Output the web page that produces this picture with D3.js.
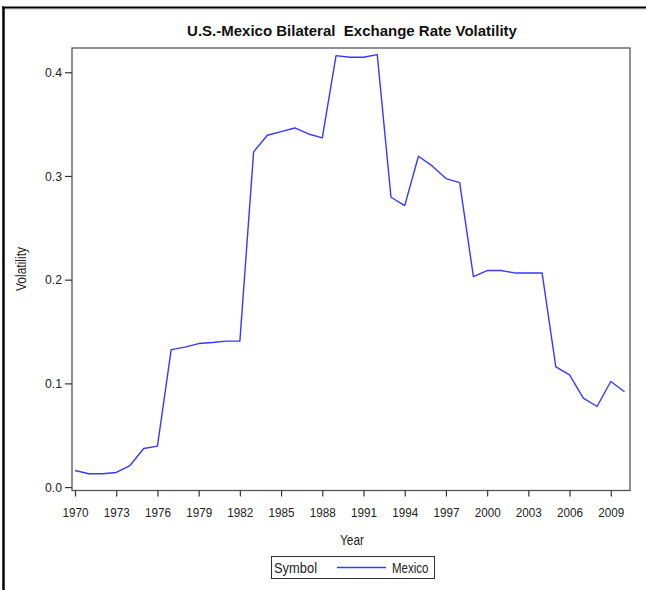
<!DOCTYPE html>
<html><head><meta charset="utf-8">
<script src="https://cdn.jsdelivr.net/npm/d3@7/dist/d3.min.js"></script>
<style>body{margin:0;background:#fff}svg{display:block}text{font-family:"Liberation Sans",Arial,sans-serif}</style>
</head><body>
<script>
const years = d3.range(1970, 2011);
const volatility = [0.016,0.0128,0.0128,0.0141,0.0208,0.0372,0.0395,0.1326,0.1349,0.1384,
  0.1394,0.1407,0.1407,0.3232,0.3393,0.3428,0.3463,0.3405,0.3367,0.416,
  0.4145,0.4145,0.417,0.2795,0.2714,0.319,0.3097,0.2975,0.2936,0.203,
  0.2088,0.2088,0.2065,0.2065,0.2065,0.116,0.1082,0.0858,0.0777,0.1018,0.0919];
const xTicks = [1970,1973,1976,1979,1982,1985,1988,1991,1994,1997,2000,2003,2006,2009];
const yTicks = [0.0,0.1,0.2,0.3,0.4];
const title = "U.S.-Mexico Bilateral\u00a0 Exchange Rate Volatility";
const seriesName = "Mexico";

const W=646,H=590;
const svg=d3.select("body").append("svg").attr("width",W).attr("height",H);
svg.append("rect").attr("width",W).attr("height",H).attr("fill","#fff");
// outer border
svg.append("line").attr("x1",2).attr("x2",W).attr("y1",7.5).attr("y2",7.5).attr("stroke","#000").attr("stroke-width",2);
svg.append("line").attr("x1",3.5).attr("x2",3.5).attr("y1",6.5).attr("y2",H).attr("stroke","#000").attr("stroke-width",2.5);
svg.append("line").attr("x1",5).attr("x2",W).attr("y1",9.5).attr("y2",9.5).attr("stroke","#ddd").attr("stroke-width",1);

const L=72,R=630,T=48,B=490.5;
const x=d3.scaleLinear().domain([1969.78,2010.4]).range([L,R]);
const y=d3.scaleLinear().domain([-0.0033,0.4234]).range([B,T]);

svg.append("text").attr("x",352).attr("y",36).attr("text-anchor","middle")
  .attr("font-weight","bold").attr("font-size",15).attr("fill","#111").text(title);

const line=d3.line().x((d,i)=>x(years[i])).y(d=>y(d));
svg.append("path").datum(volatility).attr("d",line).attr("fill","none")
  .attr("stroke","#3838ff").attr("stroke-width",1.4).attr("stroke-linejoin","round");

svg.append("rect").attr("x",L).attr("y",T).attr("width",R-L).attr("height",B-T)
  .attr("fill","none").attr("stroke","#555").attr("stroke-width",1.3);

const xa=svg.append("g").attr("transform",`translate(0,${B})`)
  .call(d3.axisBottom(x).tickValues(xTicks).tickFormat(d3.format("d")).tickSize(6).tickSizeOuter(0));
const ya=svg.append("g").attr("transform",`translate(${L},0)`)
  .call(d3.axisLeft(y).tickValues(yTicks).tickFormat(d3.format(".1f")).tickSize(7).tickSizeOuter(0));
[xa,ya].forEach(g=>{g.select(".domain").remove();
  g.selectAll("line").attr("stroke","#333").attr("stroke-width",1.2);
  g.selectAll("text").attr("font-size",13).attr("fill","#222").attr("lengthAdjust","spacingAndGlyphs");});
xa.selectAll("text").attr("dy","0.71em").attr("y",17).attr("textLength",26);
ya.selectAll("text").attr("x",-10).attr("textLength",17);

function ntext(xp,yp,str,len,anchor){
  return svg.append("text").attr("x",xp).attr("y",yp).attr("text-anchor",anchor||"start")
    .attr("font-size",14).attr("fill","#222").attr("textLength",len).attr("lengthAdjust","spacingAndGlyphs").text(str);
}
ntext(352,545,"Year",24,"middle");
svg.append("text").attr("transform","translate(26,269) rotate(-90)").attr("text-anchor","middle")
  .attr("font-size",14).attr("fill","#222").attr("textLength",44).attr("lengthAdjust","spacingAndGlyphs").text("Volatility");

// legend
svg.append("rect").attr("x",271.5).attr("y",556.5).attr("width",163).attr("height",22).attr("fill","#fff").attr("stroke","#333").attr("stroke-width",1);
ntext(274,573,"Symbol",43);
svg.append("line").attr("x1",337).attr("x2",386).attr("y1",567.5).attr("y2",567.5).attr("stroke","#3838ff").attr("stroke-width",1.4);
ntext(392,573,seriesName,36.5);
</script>
</body></html>
